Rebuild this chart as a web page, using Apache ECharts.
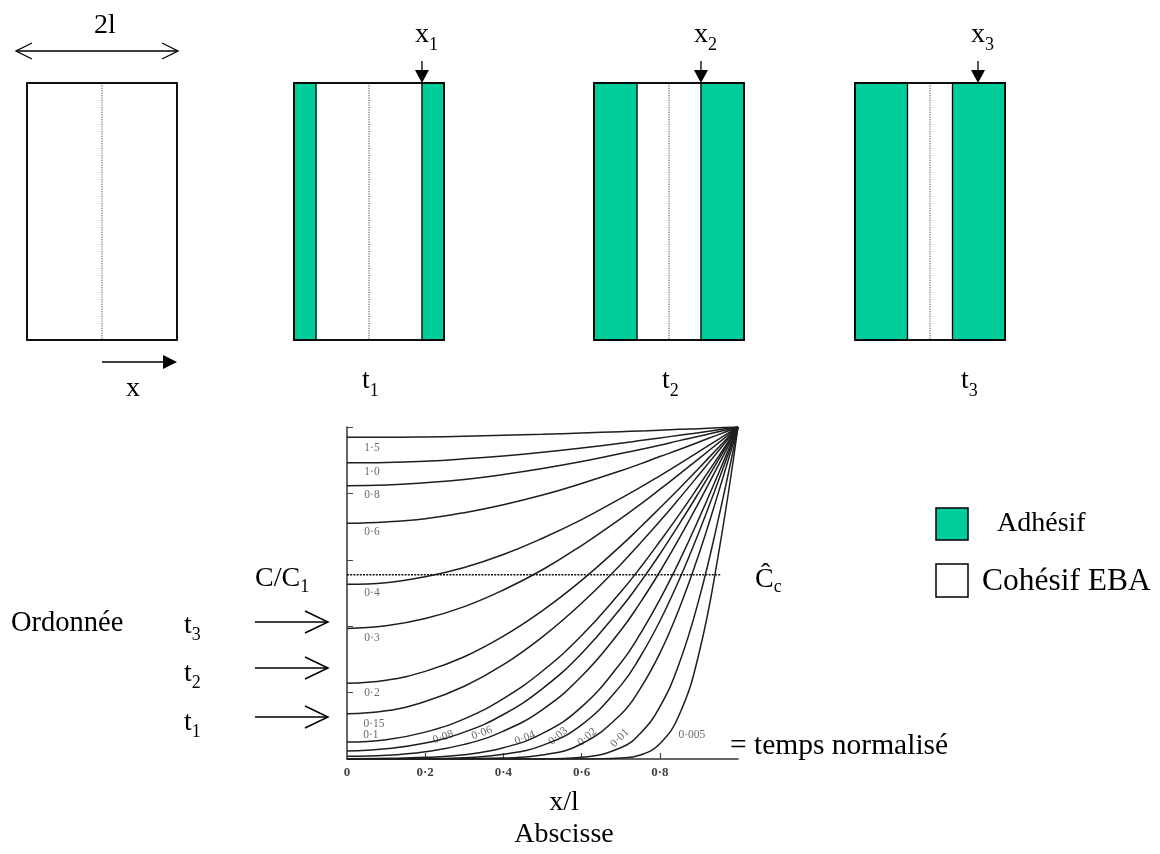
<!DOCTYPE html>
<html><head><meta charset="utf-8">
<script src="https://cdn.jsdelivr.net/npm/echarts@6/dist/echarts.min.js"></script>
<style>html,body{margin:0;padding:0;background:#fff}#c{width:1160px;height:854px}</style>
</head><body><div id="c"></div>
<script>
// ---------- DATA ----------
const xPos = [0, 0.1, 0.2, 0.3, 0.4, 0.5, 0.6, 0.7, 0.75, 0.8, 0.85, 0.9, 0.95, 1];
const curveNames = ['0·005','0·01','0·02','0·03','0·04','0·06','0·08','0·1','0·15','0·2','0·3','0·4','0·6','0·8','1·0','1·5'];
const c0005 = [0,0,0,0,0,0,0,0.003,0.012,0.046,0.134,0.317,0.617,1];
const c001  = [0,0,0,0,0,0,0.005,0.034,0.077,0.157,0.289,0.480,0.724,1];
const c002  = [0,0,0,0.001,0.003,0.012,0.046,0.134,0.212,0.318,0.454,0.617,0.803,1];
const c003  = [0,0,0.001,0.004,0.014,0.041,0.103,0.221,0.308,0.415,0.541,0.683,0.838,1];
const c004  = [0.001,0.002,0.005,0.013,0.034,0.077,0.157,0.289,0.377,0.480,0.596,0.724,0.860,1];
const c006  = [0.008,0.011,0.022,0.044,0.084,0.149,0.249,0.387,0.471,0.564,0.665,0.773,0.885,1];
const c008  = [0.024,0.031,0.048,0.081,0.134,0.212,0.318,0.454,0.532,0.617,0.708,0.803,0.901,1];
const c01   = [0.051,0.058,0.081,0.121,0.182,0.265,0.372,0.503,0.576,0.655,0.737,0.823,0.911,1];
const c015  = [0.136,0.145,0.173,0.219,0.284,0.368,0.469,0.586,0.650,0.716,0.785,0.856,0.928,1];
const c02   = [0.228,0.237,0.264,0.308,0.370,0.447,0.538,0.642,0.698,0.756,0.815,0.876,0.938,1];
const c03   = [0.393,0.401,0.423,0.459,0.509,0.570,0.643,0.724,0.767,0.812,0.858,0.905,0.952,1];
const c04   = [0.526,0.531,0.549,0.577,0.616,0.665,0.721,0.785,0.818,0.853,0.889,0.926,0.963,1];
const c06   = [0.710,0.714,0.724,0.742,0.766,0.795,0.830,0.868,0.889,0.911,0.932,0.955,0.977,1];
const c08   = [0.823,0.825,0.832,0.842,0.857,0.875,0.896,0.920,0.932,0.945,0.959,0.972,0.986,1];
const c10   = [0.892,0.893,0.897,0.904,0.913,0.924,0.937,0.951,0.959,0.967,0.975,0.983,0.992,1];
const c15   = [0.969,0.969,0.970,0.972,0.975,0.978,0.982,0.986,0.988,0.990,0.993,0.995,0.998,1];
const curveValues = [c0005,c001,c002,c003,c004,c006,c008,c01,c015,c02,c03,c04,c06,c08,c10,c15];
const ccLevel = 0.555;      // dotted Ĉc level (C/C1)
const ccExtent = 0.955;     // x/l where the dotted line stops
const xTicks = ['0','0·2','0·4','0·6','0·8'];
const xTickValues = [0.2, 0.4, 0.6, 0.8];
const bandFrac = [0, 0.147, 0.287, 0.35];  // adhesive band fraction of width (each side)
const diagramTimes = ['', '1', '2', '3'];

// ---------- LAYOUT ----------
const SERIF = '"Liberation Serif","Times New Roman",serif';
const GREEN = '#00cc99';
const grid = {left: 347, top: 427, width: 391, height: 332};
const labelPlace = {
  '1·5':[0.064,0.937,0], '1·0':[0.064,0.864,0], '0·8':[0.064,0.795,0], '0·6':[0.064,0.684,0],
  '0·4':[0.064,0.500,0], '0·3':[0.064,0.364,0], '0·2':[0.064,0.199,0], '0·15':[0.069,0.105,0],
  '0·1':[0.061,0.072,0], '0·08':[0.246,0.066,20], '0·06':[0.345,0.078,20], '0·04':[0.455,0.063,22],
  '0·03':[0.540,0.069,40], '0·02':[0.614,0.066,40], '0·01':[0.698,0.063,45], '0·005':[0.882,0.072,0]
};

const mctx = document.createElement('canvas').getContext('2d');
function measure(s, fs){ mctx.font = fs + 'px "Liberation Serif"'; return mctx.measureText(s).width; }
const G = [];
function T(x, base, s, fs, align){
  G.push({type:'text', x:x, y:base - 0.32*fs, silent:true,
    style:{text:s, fontSize:fs, fontFamily:SERIF, fill:'#000', align:align||'left', verticalAlign:'middle'}});
}
function TS(x, base, main, sub, fs, sfs, drop){
  const w1 = measure(main, fs);
  T(x, base, main, fs); T(x + w1, base + drop, sub, sfs);
}
function L(x1,y1,x2,y2,w,dash,col){
  G.push({type:'line', silent:true, shape:{x1,y1,x2,y2}, style:{stroke:col||'#000', lineWidth:w||1.3, lineDash:dash||null}});
}
function PL(pts,w){ G.push({type:'polyline', silent:true, shape:{points:pts}, style:{stroke:'#000', lineWidth:w||1.3, fill:null}}); }
function PG(pts){ G.push({type:'polygon', silent:true, shape:{points:pts}, style:{fill:'#000'}}); }
function R(x,y,w,h,fill,lw){ G.push({type:'rect', silent:true, shape:{x,y,width:w,height:h}, style:{fill:fill, stroke:'#000', lineWidth:lw||1.5}}); }

// top diagrams
const diagLeft = [27, 294, 594, 855], dTop = 83, dW = 150, dH = 257;
diagLeft.forEach((lx, i) => {
  const bw = bandFrac[i] * dW;
  R(lx, dTop, dW, dH, '#fff', 1.5);
  if (bw > 0) {
    R(lx, dTop, bw, dH, GREEN, 1.3);
    R(lx + dW - bw, dTop, bw, dH, GREEN, 1.3);
  }
  L(lx + dW/2, dTop, lx + dW/2, dTop + dH, 1, [1.2, 1.2], '#444');
  R(lx, dTop, dW, dH, 'none', 1.5);
  if (i > 0) {
    const ax = (i === 3) ? lx + dW - 27 : lx + dW - bw;
    L(ax, 61, ax, 72, 1.3);
    PG([[ax-7,70],[ax+7,70],[ax,83]]);
    TS(ax - 7, 44, 'x', diagramTimes[i], 28, 18, 7);
    TS(lx + dW/2 - 7 + (i === 3 ? 38 : 0), 390, 't', diagramTimes[i], 28, 18, 7);
  }
});
// 2l double arrow
L(16, 51, 178, 51, 1.3);
PL([[32,43],[16,51],[32,59]]); PL([[162,43],[178,51],[162,59]]);
T(105, 35, '2l', 28, 'center');
// x arrow
L(102, 362, 165, 362, 1.3);
PG([[163,355],[177,362],[163,369]]);
T(133, 398, 'x', 28, 'center');

// left annotations
TS(255, 588, 'C/C', '1', 28, 18, 5);
T(11, 633, 'Ordonnée', 28.5);
[['3',635,622],['2',683,668],['1',732,717]].forEach(([s, b, ay]) => {
  TS(184, b, 't', s, 28, 18, 6);
  L(255, ay, 328, ay, 1.5);
  PL([[305, ay-11],[328, ay],[305, ay+11]], 1.5);
});
// right annotations
TS(755, 589, 'Ĉ', 'c', 28, 18, 4);
R(936, 508, 32, 32, GREEN, 1.5);
T(997, 533, 'Adhésif', 28);
R(936, 564, 32, 33, '#fff', 1.5);
T(982, 592, 'Cohésif EBA', 31.5);
T(730, 756, '= temps normalisé', 29.5);
T(564, 812, 'x/l', 28, 'center');
T(564, 844, 'Abscisse', 28, 'center');

// ---------- SERIES ----------
const series = curveValues.map((vals, k) => ({
  name: curveNames[k], type: 'line', silent: true, showSymbol: false, symbol: 'none',
  smooth: 0.45,
  lineStyle: {color: '#1e1e1e', width: 1.5},
  data: xPos.map((x, i) => [x, vals[i]])
}));
series.push({
  name: 'Cc', type: 'line', silent: true, symbol: 'none',
  lineStyle: {color: '#111', width: 1.7, type: [2, 1.2]},
  data: [[0, ccLevel], [ccExtent, ccLevel]]
});
series.push({
  name: 'labels', type: 'scatter', silent: true, symbolSize: 0,
  data: curveNames.map(n => ({
    value: [labelPlace[n][0], labelPlace[n][1]],
    label: {show: true, position: 'inside', formatter: n, rotate: labelPlace[n][2],
      fontFamily: SERIF, fontSize: 11.5, color: '#444'}
  }))
});

const chart = echarts.init(document.getElementById('c'), null, {renderer: 'canvas'});
chart.setOption({
  animation: false,
  backgroundColor: '#fff',
  grid: grid,
  xAxis: {
    type: 'value', min: 0, max: 1, interval: 0.2,
    axisLine: {lineStyle: {color: '#333', width: 1.6}},
    axisTick: {inside: true, length: 6, customValues: xTickValues, lineStyle: {color: '#444', width: 1.2}},
    splitLine: {show: false},
    axisLabel: {color: '#444', fontFamily: SERIF, fontSize: 13, fontWeight: 'bold', margin: 7,
      formatter: v => { const i = Math.round(v * 5); return i < xTicks.length ? xTicks[i] : ''; }}
  },
  yAxis: {
    type: 'value', min: 0, max: 1, interval: 0.2,
    axisLine: {show: true, lineStyle: {color: '#333', width: 1.5}},
    axisTick: {show: true, inside: true, length: 6, lineStyle: {color: '#444'}},
    splitLine: {show: false},
    axisLabel: {show: false}
  },
  series: series,
  graphic: G
});
</script></body></html>
